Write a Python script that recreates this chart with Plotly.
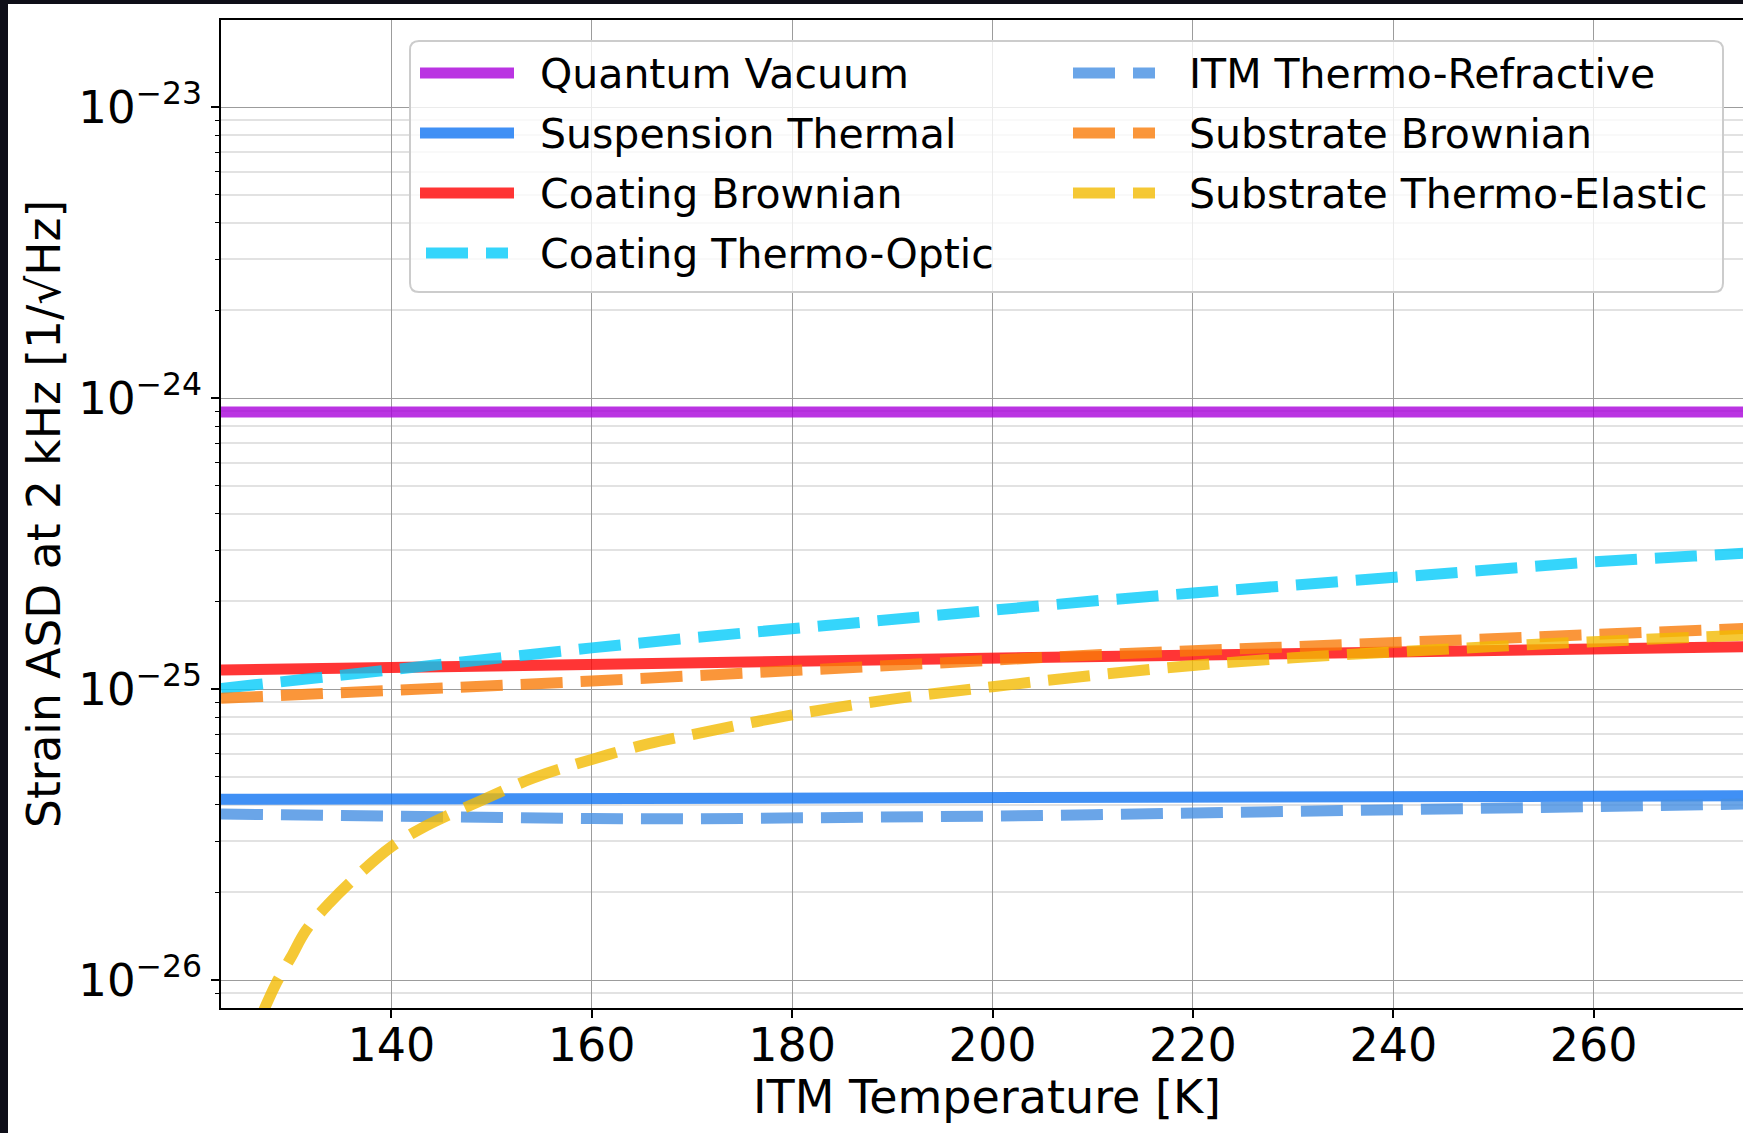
import plotly.graph_objects as go

# ---------------- data ----------------
T = [123, 130, 140, 150, 160, 170, 180, 190, 200, 210, 220, 230, 240, 250, 260, 270, 276]

quantum_vacuum = [8.95e-25, 8.95e-25, 8.95e-25, 8.95e-25, 8.95e-25, 8.95e-25, 8.95e-25, 8.95e-25,
                  8.95e-25, 8.95e-25, 8.95e-25, 8.95e-25, 8.95e-25, 8.95e-25, 8.95e-25, 8.95e-25, 8.95e-25]
suspension_thermal = [4.18e-26, 4.18e-26, 4.19e-26, 4.19e-26, 4.20e-26, 4.21e-26, 4.22e-26, 4.22e-26,
                      4.23e-26, 4.23e-26, 4.24e-26, 4.25e-26, 4.26e-26, 4.27e-26, 4.28e-26, 4.29e-26, 4.30e-26]
coating_brownian = [1.162e-25, 1.172e-25, 1.188e-25, 1.205e-25, 1.222e-25, 1.238e-25, 1.254e-25, 1.270e-25,
                    1.285e-25, 1.300e-25, 1.315e-25, 1.330e-25, 1.345e-25, 1.360e-25, 1.375e-25, 1.390e-25, 1.400e-25]
coating_thermo_optic = [1.005e-25, 1.07e-25, 1.178e-25, 1.285e-25, 1.385e-25, 1.50e-25, 1.62e-25, 1.747e-25,
                        1.884e-25, 2.006e-25, 2.137e-25, 2.278e-25, 2.42e-25, 2.575e-25, 2.738e-25, 2.864e-25, 2.94e-25]
itm_thermo_refractive = [3.72e-26, 3.68e-26, 3.64e-26, 3.61e-26, 3.59e-26, 3.58e-26, 3.59e-26, 3.62e-26,
                         3.66e-26, 3.70e-26, 3.75e-26, 3.80e-26, 3.85e-26, 3.90e-26, 3.95e-26, 4.00e-26, 4.03e-26]
substrate_brownian = [0.929e-25, 0.950e-25, 0.979e-25, 1.02e-25, 1.065e-25, 1.11e-25, 1.162e-25, 1.215e-25,
                      1.265e-25, 1.31e-25, 1.354e-25, 1.40e-25, 1.443e-25, 1.497e-25, 1.554e-25, 1.595e-25, 1.62e-25]

T_te = [127.0, 128.5, 130.0, 131.5, 133.8, 136.5, 140.0, 143.0, 148.7, 154.2, 160.0, 165.7,
        170, 180, 190, 200, 210, 220, 230, 240, 250, 260, 270, 276]
substrate_thermo_elastic = [7.5e-27, 9.74e-27, 1.20e-26, 1.485e-26, 1.835e-26, 2.265e-26, 2.87e-26, 3.32e-26,
                            4.10e-26, 4.95e-26, 5.73e-26, 6.49e-26, 6.97e-26, 8.15e-26, 9.23e-26, 1.019e-25,
                            1.114e-25, 1.205e-25, 1.28e-25, 1.34e-25, 1.40e-25, 1.455e-25, 1.505e-25, 1.535e-25]

x_ticks = [140, 160, 180, 200, 220, 240, 260]
y_ticks = [1e-26, 1e-25, 1e-24, 1e-23]
y_ticktext = ["10<sup>\u221226</sup>", "10<sup>\u221225</sup>", "10<sup>\u221224</sup>", "10<sup>\u221223</sup>"]

x_title = "ITM Temperature [K]"
y_title = "Strain ASD at 2 kHz [1/\u221aHz]"

# ---------------- styles ----------------
FONT = "DejaVu Sans"
DASH = "42px,18px"
series = [
    ("Quantum Vacuum", T, quantum_vacuum, "rgba(169,1,219,0.8)", "solid"),
    ("Suspension Thermal", T, suspension_thermal, "rgba(16,116,242,0.8)", "solid"),
    ("Coating Brownian", T, coating_brownian, "rgba(255,2,2,0.8)", "solid"),
    ("Coating Thermo-Optic", T, coating_thermo_optic, "rgba(2,202,250,0.8)", DASH),
    ("ITM Thermo-Refractive", T, itm_thermo_refractive, "rgba(69,142,226,0.8)", DASH),
    ("Substrate Brownian", T, substrate_brownian, "rgba(249,124,9,0.8)", DASH),
    ("Substrate Thermo-Elastic", T_te, substrate_thermo_elastic, "rgba(242,186,2,0.8)", DASH),
]

W, H = 1743, 1133
L, R, TOP, B = 221, 1743, 20, 1008  # plot-area pixel box
XTICK_SIZE = 46
YTICK_SIZE = 45
XTITLE_SIZE = 46
YTITLE_SIZE = 45.5
LEG_SIZE = 41


def px(x):
    return (x - L) / (R - L)


def py(y):
    return (B - y) / (B - TOP)


fig = go.Figure()
for name, xs, ys, color, dash in series:
    fig.add_trace(go.Scatter(
        x=xs, y=ys, mode="lines", name=name, showlegend=False,
        line=dict(color=color, width=11, dash=dash),
        line_shape="spline" if name == "Substrate Thermo-Elastic" else "linear",
    ))

minor_vals = [k * 10.0 ** e for e in range(-27, -22) for k in range(2, 10)]

fig.update_layout(
    width=W, height=H,
    margin=dict(l=L, r=W - R, t=TOP, b=H - B, pad=0),
    paper_bgcolor="white", plot_bgcolor="white",
    font=dict(family=FONT, color="black", size=XTICK_SIZE),
    showlegend=False,
    xaxis=dict(
        range=[123.0, 274.9], tickmode="array", tickvals=x_ticks,
        ticks="outside", ticklen=8, tickwidth=1.5, tickcolor="black",
        showline=True, linecolor="black", linewidth=2, mirror=True,
        showgrid=True, gridcolor="#9c9c9c", gridwidth=1,
        zeroline=False, tickfont=dict(size=XTICK_SIZE, family=FONT),
        ticklabelstandoff=-12,
    ),
    yaxis=dict(
        type="log", range=[-26.096, -22.701], tickmode="array",
        tickvals=y_ticks, ticktext=y_ticktext,
        ticks="outside", ticklen=8, tickwidth=1.5, tickcolor="black",
        showline=True, linecolor="black", linewidth=2, mirror=False,
        showgrid=True, gridcolor="#9c9c9c", gridwidth=1,
        zeroline=False, tickfont=dict(size=YTICK_SIZE, family=FONT),
        minor=dict(tickmode="array", tickvals=minor_vals, ticks="outside", ticklen=4,
                   tickwidth=1, tickcolor="black", showgrid=True,
                   gridcolor="#e2e2e2", gridwidth=1.5),
    ),
)

shapes = []
annotations = []

# frame strips (dark border of the screenshot)
shapes.append(dict(type="rect", xref="paper", yref="paper", x0=px(0), x1=px(8), y0=py(H), y1=py(0),
                   fillcolor="#0e0e18", line=dict(width=0), layer="above"))
shapes.append(dict(type="rect", xref="paper", yref="paper", x0=px(0), x1=px(W), y0=py(4), y1=py(0),
                   fillcolor="#0e0e18", line=dict(width=0), layer="above"))

# legend box (rounded)
lx0, lx1, ly0, ly1, rad = 410, 1723, 41, 292, 9
rx, ry = rad / (R - L), rad / (B - TOP)
X0, X1, Y0, Y1 = px(lx0), px(lx1), py(ly1), py(ly0)
path = (f"M{X0 + rx},{Y0} L{X1 - rx},{Y0} Q{X1},{Y0} {X1},{Y0 + ry} "
        f"L{X1},{Y1 - ry} Q{X1},{Y1} {X1 - rx},{Y1} L{X0 + rx},{Y1} Q{X0},{Y1} {X0},{Y1 - ry} "
        f"L{X0},{Y0 + ry} Q{X0},{Y0} {X0 + rx},{Y0} Z")
shapes.append(dict(type="path", xref="paper", yref="paper", path=path,
                   fillcolor="rgba(255,255,255,0.8)", line=dict(color="#cccccc", width=2), layer="above"))

rows = [73, 133, 193, 253]
cols = [(420, 514, 538), (1067, 1161, 1187)]
positions = [(0, 0), (0, 1), (0, 2), (0, 3), (1, 0), (1, 1), (1, 2)]
for (name, xs, ys, color, dash), (c, r) in zip(series, positions):
    sx0, sx1, tx = cols[c]
    if dash != "solid":
        sx0, sx1 = sx0 + 6, sx1 - 6
    yy = rows[r]
    shapes.append(dict(type="line", xref="paper", yref="paper", x0=px(sx0), x1=px(sx1),
                       y0=py(yy), y1=py(yy), line=dict(color=color, width=11, dash=dash), layer="above"))
    annotations.append(dict(text=name, xref="paper", yref="paper", x=px(tx), y=py(yy + 1),
                            xanchor="left", yanchor="middle", showarrow=False,
                            font=dict(size=LEG_SIZE, family=FONT, color="black")))

# axis titles
annotations.append(dict(text=x_title, xref="paper", yref="paper", x=px(987), y=py(1097),
                        xanchor="center", yanchor="middle", showarrow=False,
                        font=dict(size=XTITLE_SIZE, family=FONT, color="black")))
annotations.append(dict(text=y_title, xref="paper", yref="paper", x=px(44), y=py(514),
                        xanchor="center", yanchor="middle", showarrow=False, textangle=-90,
                        font=dict(size=YTITLE_SIZE, family=FONT, color="black")))

fig.update_layout(shapes=shapes, annotations=annotations)

fig.write_html("out.html", config={"displayModeBar": False},
               post_script="document.body.style.margin='0';document.body.style.overflow='hidden';")
